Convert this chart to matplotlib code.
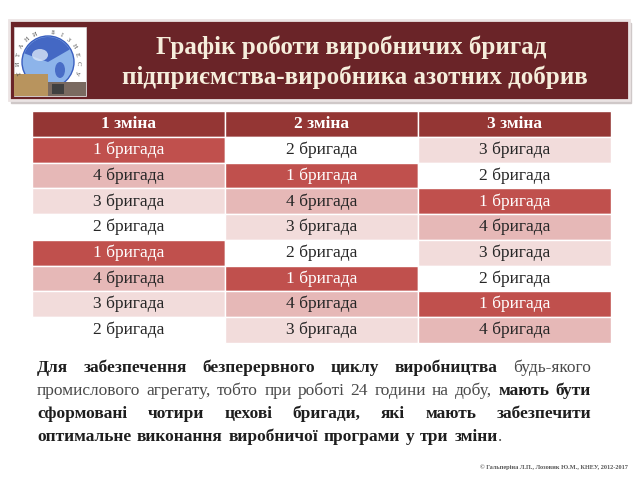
import matplotlib.pyplot as plt
import numpy as np
from matplotlib.patches import Rectangle, Circle, Wedge, Ellipse

# table data: brigade number working in each shift
shifts = ["1 зміна", "2 зміна", "3 зміна"]
schedule = [
    [1, 2, 3],
    [4, 1, 2],
    [3, 4, 1],
    [2, 3, 4],
    [1, 2, 3],
    [4, 1, 2],
    [3, 4, 1],
    [2, 3, 4],
]
brigade_label = "{} бригада"
brigade_colors = {1: "#c0504d", 2: "#ffffff", 3: "#f2dcdb", 4: "#e6b8b7"}
brigade_text = {1: "white", 2: "#262626", 3: "#262626", 4: "#262626"}

title_lines = ["Графік роботи виробничих бригад",
               "підприємства-виробника азотних добрив"]

para_lines = [
    [("Для", True), ("забезпечення", True), ("безперервного", True), ("циклу", True),
     ("виробництва", True), ("будь-якого", False)],
    [("промислового", False), ("агрегату,", False), ("тобто", False), ("при", False),
     ("роботі", False), ("24", False), ("години", False), ("на", False), ("добу,", False),
     ("мають", True), ("бути", True)],
    [("сформовані", True), ("чотири", True), ("цехові", True), ("бригади,", True),
     ("які", True), ("мають", True), ("забезпечити", True)],
    [("оптимальне", True), ("виконання", True), ("виробничої", True), ("програми", True),
     ("у", True), ("три", True), ("зміни", True)],
]
footer = "© Гальперіна Л.П., Лозовик Ю.М., КНЕУ, 2012-2017"

plt.rcParams['font.family'] = ['Liberation Serif', 'DejaVu Serif']

fig = plt.figure(figsize=(6.4, 4.8), dpi=100)
ax = fig.add_axes([0, 0, 1, 1])
ax.set_xlim(0, 640)
ax.set_ylim(480, 0)
ax.axis('off')

# title banner
ax.add_patch(Rectangle((11, 23), 620, 80, color='#cfc8c8', zorder=1))
ax.add_patch(Rectangle((9, 20), 620, 80, facecolor='#6a2428', edgecolor='#ebe4e4', lw=2, zorder=2))
# logo
ax.add_patch(Rectangle((14, 27), 72, 69, facecolor='white', edgecolor='#ddd', lw=0.5, zorder=3))
ax.add_patch(Circle((48, 62), 26, facecolor='#8db4ea', edgecolor='#3a5fc0', lw=1, zorder=4))
ax.add_patch(Wedge((48, 62), 25, 200, 330, facecolor='#2c4fb8', alpha=0.75, zorder=5))
ax.add_patch(Ellipse((40, 55), 16, 12, facecolor='#dbe7f8', alpha=0.8, zorder=5))
ax.add_patch(Ellipse((60, 70), 10, 16, facecolor='#2c4fb8', alpha=0.7, zorder=5))
ax.add_patch(Rectangle((14, 74), 34, 22, facecolor='#b8945e', zorder=6))
ax.add_patch(Rectangle((48, 82), 38, 14, facecolor='#7a6a60', zorder=6))
ax.add_patch(Rectangle((52, 84), 12, 10, facecolor='#404040', zorder=7))
logo_txt = "ТИТАНИ БІЗНЕСУ"
angs = np.linspace(160, 20 + 360, len(logo_txt))
for ch, a in zip(logo_txt, angs):
    r = np.deg2rad(a)
    ax.text(48 + 30 * np.cos(r), 62 + 30 * np.sin(r), ch, fontsize=4.5, color='#444',
            rotation=-(a - 270), ha='center', va='center', zorder=6)

ax.text(351, 47, title_lines[0], fontsize=18, fontweight='bold', color='#f6eedc',
        ha='center', va='center', zorder=6)
ax.text(355, 77, title_lines[1], fontsize=18, fontweight='bold', color='#f6eedc',
        ha='center', va='center', zorder=6)

# table
col_x = [32, 225, 418, 611]
top = 111
hdr_h = 26
row_h = 25.7
for j, name in enumerate(shifts):
    ax.add_patch(Rectangle((col_x[j], top), col_x[j + 1] - col_x[j], hdr_h,
                           facecolor='#943634', edgecolor='white', lw=1, zorder=2))
    ax.text((col_x[j] + col_x[j + 1]) / 2, top + hdr_h / 2, name, fontsize=12.5,
            fontweight='bold', color='white', ha='center', va='center', zorder=3)
for i, row in enumerate(schedule):
    y0 = top + hdr_h + i * row_h
    for j, b in enumerate(row):
        ax.add_patch(Rectangle((col_x[j], y0), col_x[j + 1] - col_x[j], row_h,
                               facecolor=brigade_colors[b], edgecolor='white', lw=1, zorder=2))
        ax.text((col_x[j] + col_x[j + 1]) / 2, y0 + row_h / 2, brigade_label.format(b),
                fontsize=12.5, color=brigade_text[b], ha='center', va='center', zorder=3)

# justified paragraph
renderer = fig.canvas.get_renderer()
left, right = 37, 591
line_y = [368, 391, 414, 437]
fs = 12.5


def word_width(txt, bold):
    t = ax.text(0, 0, txt, fontsize=fs, fontweight='bold' if bold else 'normal')
    w = t.get_window_extent(renderer).width
    t.remove()
    return w


space_w = word_width("a b", False) - word_width("ab", False)
for k, words in enumerate(para_lines):
    widths = [word_width(w, b) for w, b in words]
    last = k == len(para_lines) - 1
    gap = space_w * 1.3 if last else (right - left - sum(widths)) / (len(words) - 1)
    x = left
    for (w, b), wd in zip(words, widths):
        ax.text(x, line_y[k], w, fontsize=fs, fontweight='bold' if b else 'normal',
                color='#1e1e1e' if b else '#4a4a4a', ha='left', va='center')
        x += wd + gap
    if last:
        ax.text(x - gap, line_y[k], ".", fontsize=fs, color='#4a4a4a', ha='left', va='center')

ax.text(628, 467, footer, fontsize=4.5, fontweight='bold', color='#555', ha='right', va='center')

fig.savefig('out.png', dpi=100)
